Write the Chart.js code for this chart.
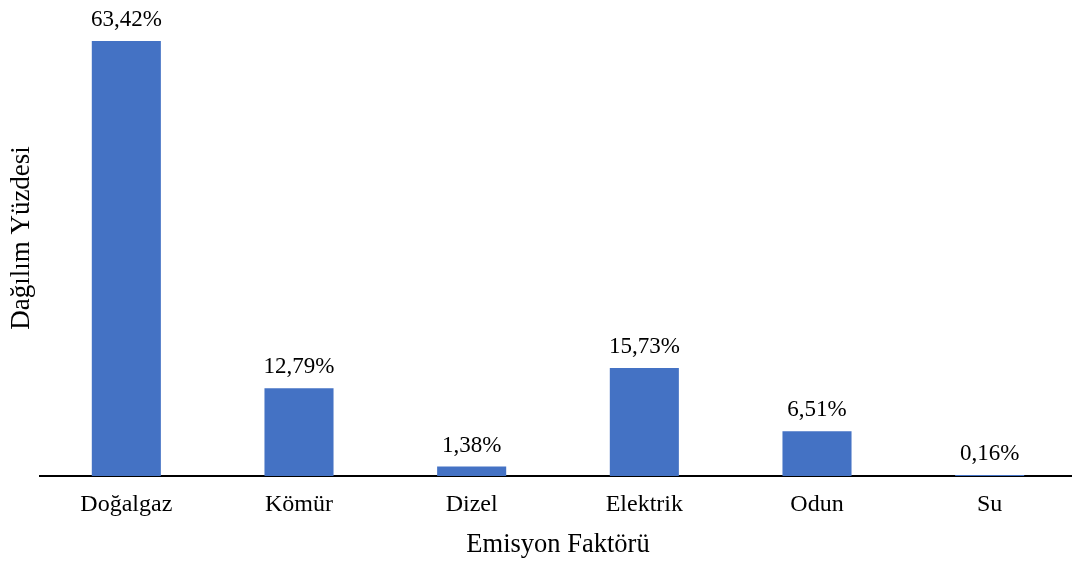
<!DOCTYPE html>
<html>
<head>
<script src="https://cdn.jsdelivr.net/npm/chart.js"></script>
<style>
  body { margin: 0; background: #fff; overflow: hidden; }
  #wrap { width: 1076px; height: 561px; }
</style>
</head>
<body>
<div id="wrap">
  <canvas id="myChart"></canvas>
</div>

<script>
  const categories = ['Doğalgaz', 'Kömür', 'Dizel', 'Elektrik', 'Odun', 'Su'];
  const shares = [63.42, 12.79, 1.38, 15.73, 6.51, 0.16];
  const xTitle = 'Emisyon Faktörü';
  const yTitle = 'Dağılım Yüzdesi';

  const serif = '"Liberation Serif", "Times New Roman", serif';

  // values on top of each bar, Turkish decimal comma
  const barLabels = {
    id: 'barLabels',
    afterDatasetsDraw(chart) {
      const c = chart.ctx;
      const meta = chart.getDatasetMeta(0);
      c.save();
      c.font = '23px ' + serif;
      c.fillStyle = '#000';
      c.textAlign = 'center';
      c.textBaseline = 'alphabetic';
      meta.data.forEach((bar, i) => {
        const txt = shares[i].toFixed(2).replace('.', ',') + '%';
        c.fillText(txt, bar.x, bar.y - 15);
      });
      c.restore();
    }
  };

  const ctx = document.getElementById('myChart');
  new Chart(ctx, {
    type: 'bar',
    data: {
      labels: categories,
      datasets: [{
        data: shares,
        backgroundColor: '#4472C4',
        barPercentage: 0.4,
        categoryPercentage: 1.0
      }]
    },
    options: {
      responsive: true,
      maintainAspectRatio: false,
      animation: false,
      layout: { padding: 0 },
      plugins: {
        legend: { display: false },
        tooltip: { enabled: false }
      },
      scales: {
        x: {
          grid: { display: false, drawTicks: false },
          border: { display: true, color: '#000', width: 2 },
          ticks: { color: '#000', font: { family: serif, size: 24 }, padding: 14 },
          title: { display: true, text: xTitle, color: '#000', font: { family: serif, size: 26.5 }, padding: { top: 0, bottom: 0 } },
          afterFit: s => { s.height = 85; }
        },
        y: {
          min: 0,
          max: 69.4,
          grid: { display: false, drawTicks: false },
          border: { display: false },
          ticks: { display: false },
          title: { display: true, text: yTitle, color: '#000', font: { family: serif, size: 27 }, padding: { top: 6, bottom: 0 } },
          afterFit: s => { s.width = 40; }
        }
      }
    },
    plugins: [barLabels]
  });
</script>
</body>
</html>
